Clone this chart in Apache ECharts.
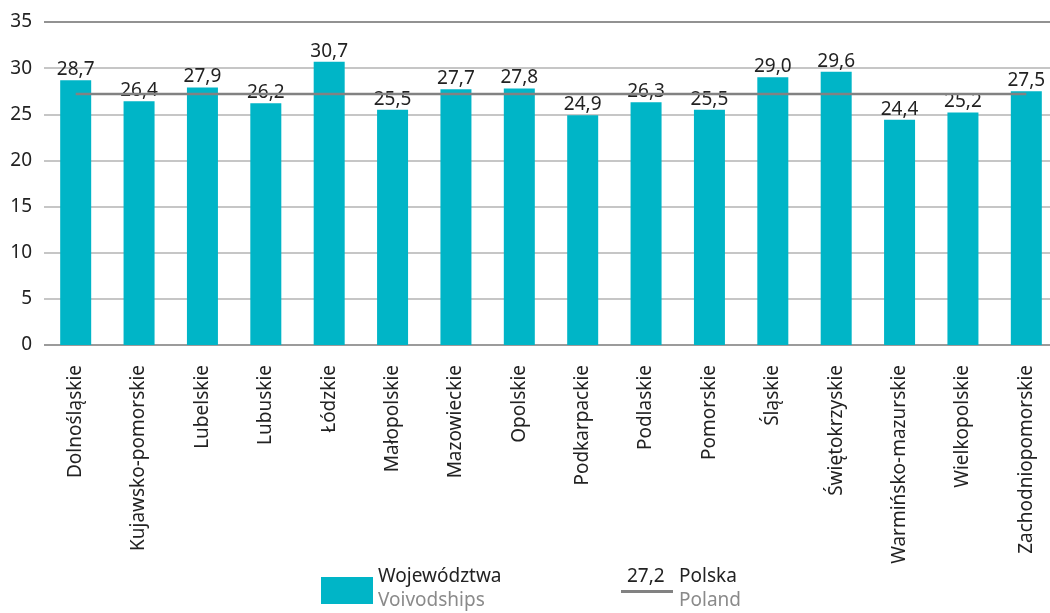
<!DOCTYPE html>
<html><head><meta charset="utf-8">
<script src="https://cdn.jsdelivr.net/npm/echarts@6/dist/echarts.min.js"></script>
<style>html,body{margin:0;padding:0;background:#fff;overflow:hidden}#c{width:1058px;height:613px}</style>
</head><body><div id="c"></div>
<script>
const categories = ['Dolnośląskie','Kujawsko-pomorskie','Lubelskie','Lubuskie','Łódzkie','Małopolskie','Mazowieckie','Opolskie','Podkarpackie','Podlaskie','Pomorskie','Śląskie','Świętokrzyskie','Warmińsko-mazurskie','Wielkopolskie','Zachodniopomorskie'];
const voivodships = [28.7,26.4,27.9,26.2,30.7,25.5,27.7,27.8,24.9,26.3,25.5,29.0,29.6,24.4,25.2,27.5];
const polandValue = 27.2;
const polandLine = categories.map(() => polandValue);
const yTicks = [0,5,10,15,20,25,30,35];

const FONT = '"Noto Sans", sans-serif';
const FS = 19;
const fmt = v => v.toFixed(1).replace('.', ',');
const chart = echarts.init(document.getElementById('c'));
chart.setOption({
  animation:false,
  textStyle:{fontFamily:FONT},
  grid:{left:44,right:0,top:22,bottom:268,containLabel:false},
  xAxis:{type:'category',data:categories,boundaryGap:true,
    axisLine:{show:false},axisTick:{show:false},
    axisLabel:{rotate:90,fontSize:FS,color:'#222',margin:20,fontFamily:FONT}},
  yAxis:{type:'value',min:yTicks[0],max:yTicks[yTicks.length-1],interval:5,
    axisLine:{show:false},axisTick:{show:false},
    axisLabel:{fontSize:FS,color:'#222',margin:12,fontFamily:FONT},
    splitLine:{lineStyle:{color:['#7a7a7a','#b3b3b3','#b3b3b3','#b3b3b3','#b3b3b3','#b3b3b3','#b3b3b3','#6e6e6e'],width:1.5}}},
  series:[
    {type:'bar',name:'Województwa',data:voivodships,barWidth:31,
     itemStyle:{color:'#00b5c7'},
     label:{show:true,position:'top',distance:1,fontSize:FS,color:'#222',fontFamily:FONT,formatter:p=>fmt(p.value)}},
    {type:'line',name:'Polska',data:polandLine,symbol:'none',z:5,
     lineStyle:{color:'#828282',width:2.5}}
  ],
  graphic:[
    {type:'rect',left:321,top:577,shape:{width:52,height:27},style:{fill:'#00b5c7'}},
    {type:'text',left:378,top:567,style:{text:'Województwa',fontSize:FS,fill:'#222',fontFamily:FONT}},
    {type:'text',left:378,top:591,style:{text:'Voivodships',fontSize:FS,fill:'#8a8a8a',fontFamily:FONT}},
    {type:'rect',left:621,top:590,shape:{width:52,height:3},style:{fill:'#828282'}},
    {type:'text',left:627,top:567,style:{text:fmt(polandValue),fontSize:FS,fill:'#222',fontFamily:FONT}},
    {type:'text',left:679,top:567,style:{text:'Polska',fontSize:FS,fill:'#222',fontFamily:FONT}},
    {type:'text',left:679,top:591,style:{text:'Poland',fontSize:FS,fill:'#8a8a8a',fontFamily:FONT}}
  ]
});
</script></body></html>
